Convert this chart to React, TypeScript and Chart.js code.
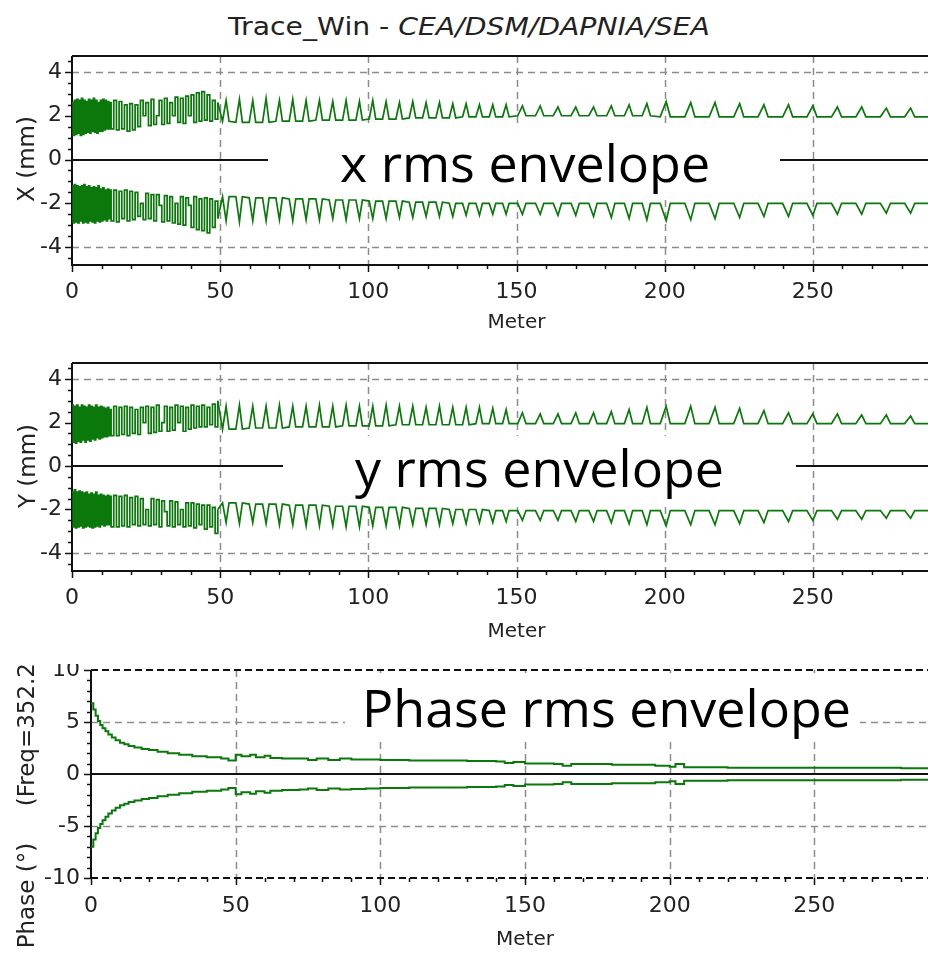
import React, { useEffect, useRef } from "react";
import { Chart, registerables } from "chart.js";
Chart.register(...registerables);

// ---------- tick labels ----------
const meterTicks = [0, 50, 100, 150, 200, 250, 300];
const envTicks = [-4, -2, 0, 2, 4];
const phaseTicks = [-10, -5, 0, 5, 10];

// ---------- envelope data (meters / mm) ----------
// dense region 0-13 m
const denseS = [0, 0.4, 0.8, 1.2, 1.6, 2, 2.4, 2.8, 3.2, 3.6, 4, 4.4, 4.8, 5.2, 5.6, 6, 6.4, 6.8, 7.2, 7.6, 8, 8.4, 8.8, 9.2, 9.6, 10, 10.4, 10.8, 11.2, 11.6, 12, 12.4, 12.8];
const xUpDense = [2.6, 1.1, 2.7, 1.15, 2.75, 1.2, 2.7, 1.1, 2.8, 1.15, 2.7, 1.2, 2.65, 1.25, 2.75, 1.2, 2.7, 1.3, 2.8, 1.25, 2.7, 1.2, 2.6, 1.3, 2.7, 1.3, 2.75, 1.35, 2.7, 1.4, 2.65, 1.4, 2.6];
const xLoDense = [-1.2, -2.9, -1.15, -2.85, -1.2, -2.9, -1.25, -2.8, -1.2, -2.9, -1.15, -2.85, -1.25, -2.9, -1.2, -2.8, -1.3, -2.85, -1.25, -2.9, -1.3, -2.8, -1.2, -2.85, -1.35, -2.8, -1.3, -2.75, -1.4, -2.8, -1.35, -2.7, -1.4];
const yUpDense = [2.8, 1.1, 2.75, 1.05, 2.8, 1.15, 2.7, 1.1, 2.8, 1.2, 2.75, 1.1, 2.7, 1.2, 2.8, 1.15, 2.75, 1.25, 2.7, 1.2, 2.8, 1.3, 2.7, 1.25, 2.75, 1.3, 2.7, 1.35, 2.65, 1.35, 2.7, 1.4, 2.6];
const yLoDense = [-1.2, -2.8, -1.1, -2.85, -1.2, -2.8, -1.15, -2.75, -1.2, -2.85, -1.25, -2.8, -1.2, -2.75, -1.3, -2.8, -1.25, -2.85, -1.3, -2.8, -1.2, -2.75, -1.35, -2.8, -1.3, -2.7, -1.35, -2.75, -1.4, -2.7, -1.35, -2.7, -1.4];

// comb region 13-50 m
const combS = [13.2, 14.1, 15, 15.9, 16.8, 17.7, 18.6, 19.5, 20.4, 21.3, 22.2, 23.1, 24, 24.9, 25.8, 26.7, 27.6, 28.5, 29.4, 30.3, 31.2, 32.1, 33, 33.9, 34.8, 35.7, 36.6, 37.5, 38.4, 39.3, 40.2, 41.1, 42, 42.9, 43.8, 44.7, 45.6, 46.5, 47.4, 48.3, 49.2];
const xUpComb = [1.4, 2.7, 1.35, 2.65, 1.4, 2.5, 1.3, 2.55, 1.35, 2.5, 1.5, 2.7, 2.0, 2.6, 1.55, 2.75, 1.6, 2.0, 2.7, 1.6, 2.8, 1.65, 2.6, 2.0, 2.85, 1.7, 2.8, 1.65, 2.9, 2.0, 2.95, 1.7, 3.05, 1.75, 3.1, 1.8, 2.95, 1.75, 2.7, 1.85, 2.6];
const xLoComb = [-2.8, -1.4, -2.85, -1.45, -2.7, -1.4, -2.8, -1.45, -2.75, -1.5, -2.6, -2.0, -2.75, -1.55, -2.7, -1.6, -2.8, -1.6, -2.1, -2.85, -1.65, -2.8, -1.7, -2.9, -2.0, -2.95, -1.7, -3.0, -1.75, -2.1, -3.1, -1.7, -3.2, -1.8, -3.25, -1.75, -3.35, -1.8, -3.1, -1.9, -2.7];
const yUpComb = [1.4, 2.75, 1.4, 2.7, 1.45, 2.75, 1.4, 2.7, 1.5, 2.6, 1.45, 2.7, 2.0, 2.75, 1.5, 2.7, 1.55, 2.8, 1.6, 2.0, 2.75, 1.6, 2.7, 1.65, 2.8, 2.0, 2.75, 1.6, 2.7, 1.7, 2.8, 1.75, 2.75, 1.8, 2.8, 1.8, 2.7, 1.9, 2.85, 1.8, 3.0];
const yLoComb = [-2.8, -1.35, -2.8, -1.4, -2.75, -1.35, -2.8, -1.45, -2.7, -1.4, -2.75, -1.5, -2.7, -2.0, -2.75, -1.5, -2.7, -1.55, -2.8, -1.6, -2.1, -2.75, -1.6, -2.8, -1.65, -2.7, -2.0, -2.8, -1.7, -2.75, -1.7, -2.85, -1.75, -2.7, -1.8, -2.9, -1.8, -2.8, -1.9, -3.1, -2.0];

// sawtooth region 50-290 m: vertices (rise start, peak, fall end) of each focusing period
const sawS = [
  50.8, 52, 53, 55.3, 56.5, 57.5, 59.8, 61, 62, 64.3, 65.5, 66.5, 68.8, 70, 71, 73.3, 74.5, 75.5,
  77.8, 79, 80, 82.3, 83.5, 84.5, 86.8, 88, 89, 91.3, 92.5, 93.5, 95.8, 97, 98, 100.3, 101.5, 102.5,
  104.8, 106, 107, 109.3, 110.5, 111.5, 113.8, 115, 116, 118.3, 119.5, 120.5, 122.8, 124, 125,
  127.3, 128.5, 129.5, 131.8, 133, 134, 136.3, 137.5, 138.5, 140.8, 142, 143, 145.3, 146.5, 147.5,
  150.4, 152, 153.2, 156.4, 158, 159.2, 162.4, 164, 165.2, 168.4, 170, 171.2, 174.4, 176, 177.2,
  180.4, 182, 183.2, 186.4, 188, 189.2, 192.4, 194, 195.2,
  198.5, 200.5, 201.9, 206.8, 208.8, 210.2, 215, 217, 218.4, 223.3, 225.3, 226.7, 231.5, 233.5, 234.9,
  239.8, 241.8, 243.2, 248, 250, 251.4, 256.3, 258.3, 259.7, 264.5, 266.5, 267.9, 272.8, 274.8, 276.2,
  281, 283, 284.4, 289.3, 291.3, 292.7,
];
const xUpPeak = [2.7, 2.75, 2.7, 2.8, 2.7, 2.75, 2.7, 2.7, 2.65, 2.7, 2.65, 2.7, 2.65, 2.6, 2.65, 2.6, 2.6, 2.55, 2.55, 2.5, 2.5, 2.5,
  2.45, 2.45, 2.4, 2.4, 2.4, 2.45, 2.5, 2.55,
  2.65, 2.6, 2.6, 2.55, 2.5, 2.5, 2.45, 2.4, 2.4, 2.35, 2.35, 2.3];
const xUpBase = [1.75, 1.7, 1.7, 1.7, 1.75, 1.75, 1.75, 1.8, 1.8, 1.8, 1.8, 1.85, 1.85, 1.85, 1.9, 1.9, 1.9, 1.9, 1.95, 1.95, 1.95, 1.95,
  2.0, 2.0, 2.0, 2.0, 2.0, 2.0, 2.0, 2.0,
  1.95, 1.95, 1.95, 1.95, 1.95, 1.95, 1.95, 1.95, 1.95, 1.95, 1.95, 1.95];
const xLoPeak = [-2.8, -2.85, -2.8, -2.8, -2.75, -2.8, -2.75, -2.75, -2.7, -2.75, -2.7, -2.7, -2.7, -2.65, -2.65, -2.6, -2.6, -2.6, -2.55, -2.55, -2.5, -2.5,
  -2.5, -2.5, -2.55, -2.55, -2.6, -2.65, -2.7, -2.75,
  -2.8, -2.75, -2.7, -2.65, -2.6, -2.6, -2.55, -2.5, -2.5, -2.45, -2.45, -2.4];
const xLoBase = [-1.7, -1.7, -1.75, -1.75, -1.75, -1.8, -1.8, -1.8, -1.85, -1.85, -1.85, -1.9, -1.9, -1.9, -1.95, -1.95, -1.95, -2.0, -2.0, -2.0, -2.0, -2.0,
  -2.0, -2.0, -2.0, -2.0, -2.0, -2.0, -2.0, -2.0,
  -2.0, -2.0, -2.0, -2.0, -2.0, -2.0, -2.0, -2.0, -2.0, -2.0, -2.0, -2.0];
const yUpPeak = [2.75, 2.8, 2.75, 2.75, 2.8, 2.75, 2.75, 2.8, 2.75, 2.8, 2.75, 2.75, 2.8, 2.75, 2.75, 2.7, 2.75, 2.7, 2.7, 2.7, 2.65, 2.6,
  2.45, 2.4, 2.4, 2.45, 2.45, 2.5, 2.6, 2.7,
  2.75, 2.75, 2.7, 2.65, 2.55, 2.45, 2.4, 2.4, 2.35, 2.35, 2.3, 2.3];
const yUpBase = [1.7, 1.7, 1.75, 1.75, 1.75, 1.8, 1.8, 1.8, 1.8, 1.85, 1.85, 1.85, 1.85, 1.9, 1.9, 1.9, 1.9, 1.9, 1.9, 1.95, 1.95, 1.95,
  1.95, 1.95, 1.95, 1.95, 1.95, 1.95, 1.95, 1.95,
  1.95, 1.95, 1.95, 1.95, 1.95, 1.95, 1.95, 1.95, 1.95, 1.95, 1.95, 1.95];
const yLoPeak = [-2.6, -2.65, -2.6, -2.65, -2.7, -2.7, -2.75, -2.75, -2.75, -2.8, -2.8, -2.75, -2.75, -2.75, -2.7, -2.7, -2.7, -2.65, -2.65, -2.6, -2.6, -2.55,
  -2.5, -2.5, -2.5, -2.55, -2.55, -2.6, -2.65, -2.7,
  -2.75, -2.7, -2.7, -2.65, -2.6, -2.55, -2.5, -2.45, -2.45, -2.4, -2.4, -2.35];
const yLoBase = [-1.7, -1.7, -1.75, -1.75, -1.75, -1.8, -1.8, -1.8, -1.85, -1.85, -1.85, -1.9, -1.9, -1.9, -1.95, -1.95, -1.95, -2.0, -2.0, -2.0, -2.05, -2.05,
  -2.05, -2.05, -2.05, -2.05, -2.05, -2.05, -2.05, -2.05,
  -2.05, -2.05, -2.05, -2.05, -2.05, -2.05, -2.05, -2.05, -2.05, -2.05, -2.05, -2.05];

// ---------- phase data (meters / degrees) ----------
const phaseS = [0, 0.8, 1.6, 2.4, 3.2, 4, 5, 6, 7.2, 8.5, 10, 11.5, 13, 15, 17.5, 20, 23, 26.5, 30.5, 35, 40, 45, 47.5, 50, 52, 55, 57, 60, 62, 66, 72, 75, 78, 82, 86, 90, 95, 100, 110, 120, 130, 140, 143, 146, 150, 160, 163, 166, 180, 195, 200, 202, 205, 220, 240, 260, 280, 300];
const phaseUp = [6.8, 6.2, 5.6, 5.1, 4.7, 4.4, 4.1, 3.8, 3.5, 3.25, 3.0, 2.85, 2.7, 2.55, 2.4, 2.3, 2.15, 2.0, 1.85, 1.7, 1.6, 1.5, 1.3, 1.85, 1.7, 1.85, 1.6, 1.75, 1.55, 1.5, 1.5, 1.35, 1.5, 1.35, 1.5, 1.4, 1.4, 1.35, 1.3, 1.3, 1.25, 1.2, 1.05, 1.15, 1.0, 0.95, 0.8, 0.95, 0.9, 0.8, 0.7, 0.95, 0.65, 0.6, 0.6, 0.6, 0.55, 0.55];
const phaseLo = [-7.0, -6.3, -5.7, -5.2, -4.8, -4.45, -4.1, -3.8, -3.5, -3.25, -3.0, -2.85, -2.7, -2.55, -2.4, -2.3, -2.15, -2.0, -1.85, -1.7, -1.6, -1.5, -1.35, -1.95, -1.75, -1.9, -1.65, -1.8, -1.6, -1.55, -1.5, -1.4, -1.55, -1.4, -1.5, -1.45, -1.4, -1.35, -1.3, -1.3, -1.25, -1.2, -1.05, -1.15, -1.0, -0.95, -0.8, -0.95, -0.9, -0.8, -0.7, -0.95, -0.65, -0.6, -0.6, -0.6, -0.55, -0.55];

// ---------- helpers ----------
const GREEN = "#0a780a";
const FONT = "'DejaVu Sans', sans-serif";

function pts(s: number[], v: number[]) {
  return s.map((x, i) => ({ x, y: v[i] }));
}
function sawPts(peak: number[], base: number[]) {
  const out: any[] = [];
  peak.forEach((p, i) => {
    out.push({ x: sawS[3 * i], y: base[i] }, { x: sawS[3 * i + 1], y: p }, { x: sawS[3 * i + 2], y: base[i] });
  });
  return out;
}
function traceSets(dense: number[], comb: number[], peak: number[], base: number[]) {
  const early = [...pts(denseS, dense), ...pts(combS, comb)];
  const late = [early[early.length - 1], ...sawPts(peak, base)];
  const common = { borderColor: GREEN, borderWidth: 1.7, pointRadius: 0, tension: 0, fill: false };
  return [
    { ...common, data: early, stepped: true },
    { ...common, data: late, stepped: false },
  ];
}

const PANELS: any[] = [
  {
    key: "x", top: 50, width: 961, height: 290, axisW: 72, yMin: -4.82, yMax: 4.73, yTicks: envTicks, yMinor: 0.5,
    yGrid: [-4, 4], dashedFrame: false, xTickPad: 14, xTitlePad: 5, yTickPad: 10,
    box: [268, 128, 780, 197], label: "x rms envelope", labelX: 340, labelY: 182,
    yTitle: "X (mm)", yTitleX: 28, yTitleY: 159, yTitleAlign: "center",
    datasets: () => [...traceSets(xUpDense, xUpComb, xUpPeak, xUpBase), ...traceSets(xLoDense, xLoComb, xLoPeak, xLoBase)],
  },
  {
    key: "y", top: 357, width: 961, height: 289, axisW: 72, yMin: -4.83, yMax: 4.74, yTicks: envTicks, yMinor: 0.5,
    yGrid: [-4, 4], dashedFrame: false, xTickPad: 14, xTitlePad: 2, yTickPad: 10,
    box: [283, 436, 796, 503], label: "y rms envelope", labelX: 355, labelY: 487,
    yTitle: "Y (mm)", yTitleX: 29, yTitleY: 466, yTitleAlign: "center",
    datasets: () => [...traceSets(yUpDense, yUpComb, yUpPeak, yUpBase), ...traceSets(yLoDense, yLoComb, yLoPeak, yLoBase)],
  },
  {
    key: "phase", top: 664, width: 959, height: 289, axisW: 91, yMin: -10, yMax: 10, yTicks: phaseTicks, yMinor: 1,
    yGrid: [-5, 5], dashedFrame: true, xTickPad: 15, xTitlePad: 1, yTickPad: 11,
    box: [345, 673, 860, 740], label: "Phase rms envelope", labelX: 362, labelY: 727,
    yTitle: "Phase (°)     (Freq=352.2", yTitleX: 28, yTitleY: 663, yTitleAlign: "right",
    datasets: () => {
      const common = { borderColor: GREEN, borderWidth: 2, pointRadius: 0, tension: 0, fill: false, stepped: true };
      return [
        { ...common, data: pts(phaseS, phaseUp) },
        { ...common, data: pts(phaseS, phaseLo) },
      ];
    },
  },
];

function line(ctx: any, x1: number, y1: number, x2: number, y2: number) {
  ctx.beginPath();
  ctx.moveTo(x1, y1);
  ctx.lineTo(x2, y2);
  ctx.stroke();
}

function decor(p: any) {
  return {
    id: "decor_" + p.key,
    beforeDatasetsDraw(chart: any) {
      const { ctx, chartArea: a, scales } = chart;
      const xs = scales.x, ys = scales.y;
      ctx.save();
      // dashed grid
      ctx.setLineDash([7, 5]);
      ctx.strokeStyle = "#8c8c8c";
      ctx.lineWidth = 1.5;
      for (const v of meterTicks) {
        if (v === 0) continue;
        const px = Math.round(xs.getPixelForValue(v)) + 0.5;
        line(ctx, px, a.top, px, a.bottom);
      }
      for (const v of p.yGrid) {
        const py = Math.round(ys.getPixelForValue(v)) + 0.5;
        line(ctx, a.left, py, a.right, py);
      }
      // frame
      ctx.strokeStyle = "#111";
      ctx.lineWidth = 2;
      ctx.setLineDash(p.dashedFrame ? [7, 4] : []);
      line(ctx, a.left, a.top, a.right, a.top);
      line(ctx, a.left, a.bottom, a.right, a.bottom);
      ctx.setLineDash([]);
      line(ctx, a.left, a.top, a.left, a.bottom + 1);
      // zero line
      const y0 = Math.round(ys.getPixelForValue(0));
      line(ctx, a.left, y0, a.right, y0);
      // annotation box
      const t = p.top;
      ctx.fillStyle = "#fff";
      ctx.fillRect(p.box[0], p.box[1] - t, p.box[2] - p.box[0], p.box[3] - p.box[1]);
      ctx.fillStyle = "#000";
      ctx.font = "52px 'Open Sans', sans-serif";
      ctx.textAlign = "left";
      ctx.textBaseline = "alphabetic";
      ctx.fillText(p.label, p.labelX, p.labelY - t);
      ctx.restore();
    },
    afterDraw(chart: any) {
      const { ctx, chartArea: a, scales } = chart;
      const xs = scales.x, ys = scales.y;
      ctx.save();
      ctx.strokeStyle = "#111";
      ctx.lineWidth = 1.5;
      const n0 = Math.ceil(p.yMin / p.yMinor - 1e-6);
      const n1 = Math.floor(p.yMax / p.yMinor + 1e-6);
      for (let k = n0; k <= n1; k++) {
        const v = k * p.yMinor;
        const major = p.yTicks.some((t: number) => Math.abs(t - v) < 1e-6);
        const py = Math.round(ys.getPixelForValue(v)) + 0.5;
        line(ctx, a.left - (major ? 7 : 4), py, a.left, py);
      }
      for (let v = 0; v <= 300; v += 10) {
        const px = Math.round(xs.getPixelForValue(v)) + 0.5;
        line(ctx, px, a.bottom, px, a.bottom + (v % 50 === 0 ? 7 : 4));
      }
      // y title
      ctx.translate(p.yTitleX, p.yTitleY - p.top);
      ctx.rotate(-Math.PI / 2);
      ctx.fillStyle = "#222";
      ctx.font = `23px ${FONT}`;
      ctx.textAlign = p.yTitleAlign;
      ctx.textBaseline = "middle";
      ctx.fillText(p.yTitle, 0, 0);
      ctx.restore();
    },
  };
}

function Panel({ p }: { p: any }) {
  const ref = useRef<HTMLCanvasElement>(null);
  useEffect(() => {
    const canvas = ref.current;
    if (!canvas) return;
    const chart = new Chart(canvas, {
      type: "line",
      data: { datasets: p.datasets() },
      options: {
        responsive: false,
        animation: false,
        devicePixelRatio: 1,
        events: [],
        parsing: false,
        layout: { padding: { top: 6, right: 0, left: 0, bottom: 0 } },
        plugins: { legend: { display: false }, tooltip: { enabled: false }, title: { display: false } },
        scales: {
          x: {
            type: "linear",
            min: 0,
            max: 300,
            grid: { display: false, drawTicks: false },
            border: { display: false },
            afterBuildTicks: (ax: any) => {
              ax.ticks = meterTicks.map((v) => ({ value: v }));
            },
            afterFit: (ax: any) => {
              ax.height = 75;
              ax.paddingLeft = 0;
              ax.paddingRight = 0;
            },
            ticks: { font: { family: FONT, size: 22 }, color: "#222", padding: p.xTickPad, maxRotation: 0, autoSkip: false },
            title: { display: true, text: "Meter", font: { family: FONT, size: 20 }, color: "#222", padding: { top: 0, bottom: p.xTitlePad } },
          },
          y: {
            type: "linear",
            min: p.yMin,
            max: p.yMax,
            grid: { display: false, drawTicks: false },
            border: { display: false },
            afterBuildTicks: (ax: any) => {
              ax.ticks = p.yTicks.map((v: number) => ({ value: v }));
            },
            afterFit: (ax: any) => {
              ax.width = p.axisW;
              ax.paddingTop = 0;
              ax.paddingBottom = 0;
            },
            ticks: { font: { family: FONT, size: 22 }, color: "#222", padding: p.yTickPad },
          },
        },
      } as any,
      plugins: [decor(p)],
    } as any);
    return () => chart.destroy();
  }, [p]);
  return (
    <canvas
      ref={ref}
      width={p.width}
      height={p.height}
      style={{ position: "absolute", left: 0, top: p.top, width: p.width, height: p.height }}
    />
  );
}

export default function App() {
  return (
    <div style={{ position: "fixed", left: 0, top: 0, width: 928, height: 960, overflow: "hidden", background: "#fff" }}>
      <div
        style={{
          position: "absolute",
          left: 228,
          top: 14,
          whiteSpace: "nowrap",
          fontFamily: FONT,
          fontSize: 25,
          lineHeight: "25px",
          color: "#222",
          transform: "scaleX(1.13)",
          transformOrigin: "left center",
        }}
      >
        Trace_Win - <i>CEA/DSM/DAPNIA/SEA</i>
      </div>
      {PANELS.map((p) => (
        <Panel key={p.key} p={p} />
      ))}
    </div>
  );
}
